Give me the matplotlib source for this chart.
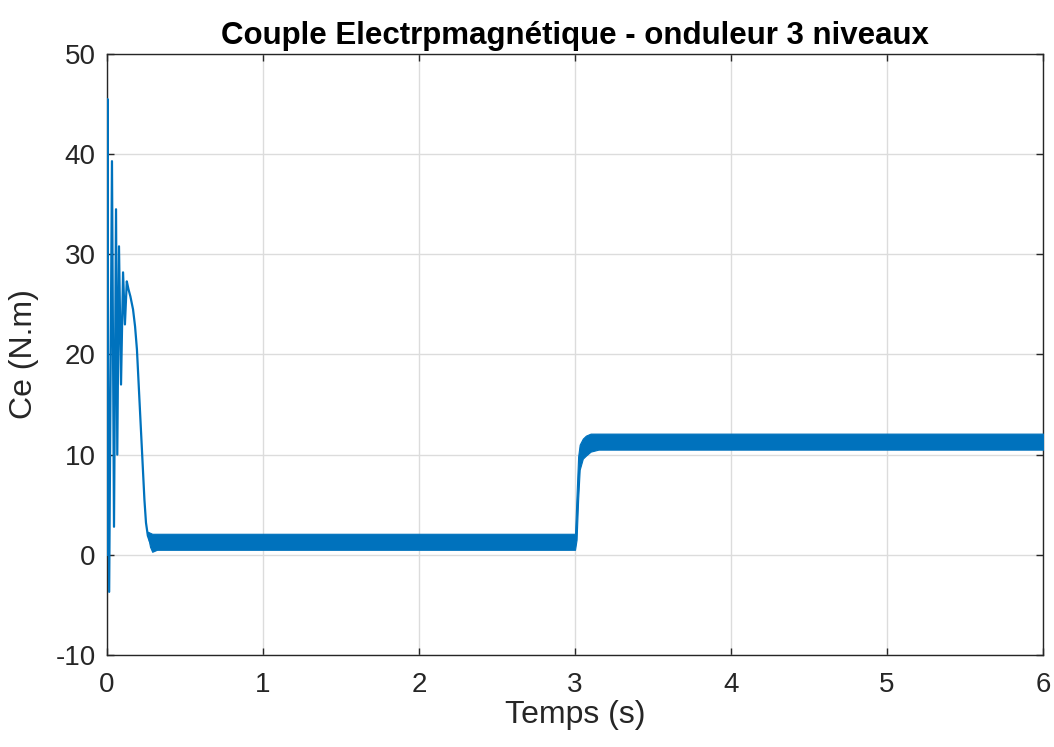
import matplotlib
matplotlib.use("Agg")
import matplotlib.pyplot as plt

plt.rcParams['font.family'] = ['Liberation Sans', 'DejaVu Sans']
plt.rcParams['axes.unicode_minus'] = False

# demarrage : oscillations du couple avant le regime etabli
t_start = [0.0, 0.004, 0.007, 0.014, 0.032, 0.045, 0.058, 0.066, 0.077, 0.090,
           0.103, 0.115, 0.127, 0.138, 0.150, 0.167, 0.180, 0.192, 0.208, 0.224,
           0.240, 0.250, 0.262, 0.276, 0.285]
ce_start = [0.0, 45.5, 20.0, -3.7, 39.3, 2.8, 34.5, 10.0, 30.8, 17.0,
            28.2, 23.0, 27.3, 26.5, 25.8, 24.5, 22.8, 20.5, 15.5, 10.5,
            5.5, 3.2, 1.9, 1.3, 1.2]

# enveloppe de l'ondulation du couple (min / max)
t_band = [0.262, 0.276, 0.29, 0.32, 2.995, 3.0, 3.01, 3.02, 3.03, 3.05,
          3.07, 3.10, 3.15, 6.0]
ce_max = [2.3, 2.2, 2.1, 2.1, 2.1, 2.1, 6.0, 9.8, 11.0, 11.6,
          11.9, 12.1, 12.1, 12.1]
ce_min = [1.9, 0.8, 0.3, 0.5, 0.5, 0.5, 1.5, 5.5, 8.5, 9.6,
          9.9, 10.3, 10.5, 10.5]

blue = '#0072BD'

fig = plt.figure(figsize=(10.54, 7.47), dpi=100)
ax = fig.add_axes([0.1015, 0.1232, 0.8881, 0.8045])

ax.fill_between(t_band, ce_min, ce_max, color=blue, linewidth=0.8,
                edgecolor=blue, zorder=3)
ax.plot(t_start, ce_start, color=blue, linewidth=1.6, zorder=3)

ax.set_xlim(0, 6)
ax.set_ylim(-10, 50)
ax.set_xticks(range(0, 7))
ax.set_yticks(range(-10, 51, 10))
ax.grid(True, color='#dcdcdc', linewidth=1.0)
ax.set_axisbelow(True)
for s in ax.spines.values():
    s.set_color('#262626')
    s.set_linewidth(1.0)
ax.tick_params(direction='in', length=5, width=1, colors='#262626',
               labelsize=20, top=True, right=True)
ax.tick_params(axis='x', pad=12)
ax.tick_params(axis='y', pad=8)

ax.set_title('Couple Electrpmagnétique - onduleur 3 niveaux',
             fontsize=22.5, fontweight='bold', pad=7)
ax.set_xlabel('Temps (s)', fontsize=23, color='#262626', labelpad=2)
ax.set_ylabel('Ce (N.m)', fontsize=23, color='#262626', labelpad=12)

fig.savefig('out.png', dpi=100)
